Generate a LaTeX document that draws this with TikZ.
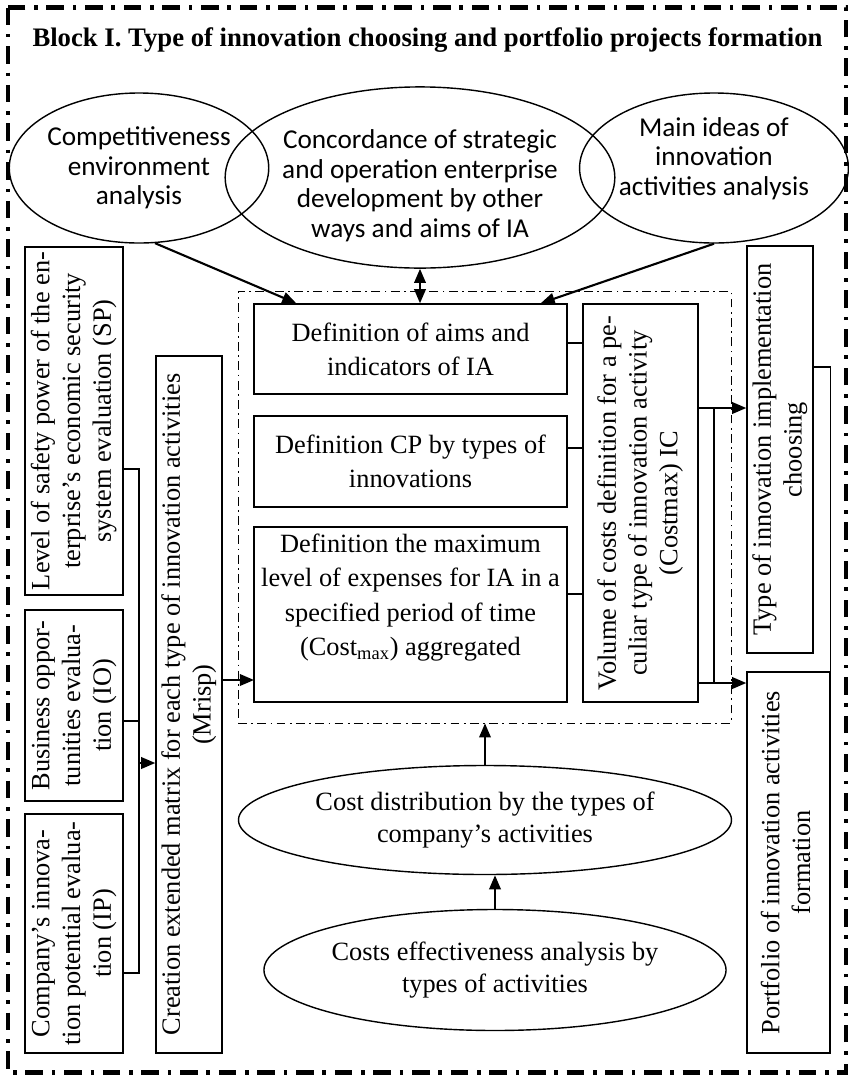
\documentclass[tikz,border=0pt]{standalone}
\usepackage{fontspec}
\usepackage{graphicx}
\setmainfont{Liberation Serif}
\newfontfamily\calibri{Carlito}
\usetikzlibrary{shapes.geometric,arrows.meta}
\newcommand{\vtext}[1]{\rotatebox{90}{\begin{tabular}{@{}c@{}}#1\end{tabular}}}
\begin{document}
\begin{tikzpicture}[thick,
  box/.style = {draw,rectangle,align=center,inner sep=1pt,font=\fontsize{15}{19.5}\selectfont},
  vbox/.style = {draw,rectangle,inner sep=1pt,font=\fontsize{15}{17.5}\selectfont},
  oval/.style = {draw,ellipse,align=center,inner sep=0pt,font=\calibri\fontsize{15.5}{16.8}\selectfont},
  soval/.style = {draw,ellipse,align=center,inner sep=0pt,font=\fontsize{15}{18.5}\selectfont},
  arr/.style = {line width=1.2pt,-{Triangle[length=8pt,width=6.5pt]}},
  dbl/.style = {line width=1.2pt,{Triangle[length=8pt,width=6.5pt]}-{Triangle[length=8pt,width=6.5pt]}}]
  \useasboundingbox (0,0) rectangle (16.98,-21.52);
  \draw[line width=2.3pt,dash pattern=on 10pt off 5pt on 2pt off 5pt] (0.16,-0.15) rectangle (16.92,-21.45);
  \node[font=\bfseries\fontsize{15.2}{18}\selectfont] (title) at (8.55,-0.80) {Block I. Type of innovation choosing and portfolio projects formation};
  \node[oval,minimum width=4.6cm,minimum height=3.0cm] (env) at (2.78,-3.36) {Competitiveness\\environment\\analysis};
  \node[oval,minimum width=6.6cm,minimum height=3.38cm] (conc) at (8.40,-3.55) {\rule{0pt}{20pt}Concordance of strategic\\and operation enterprise\\development by other\\ways and aims of IA};
  \node[oval,minimum width=4.6cm,minimum height=3.0cm] (ideas) at (14.28,-3.36) {Main ideas of\\innovation\\activities analysis\\[-3.5pt]\mbox{}};
  \node[draw,thin,minimum width=9.86cm,minimum height=8.64cm,dash pattern=on 5pt off 2.5pt on 1pt off 2.5pt] (stage) at (9.69,-10.14) {};
  \node[box,minimum width=6.26cm,minimum height=1.8cm] (aims) at (8.21,-6.98) {Definition of aims and\\indicators of IA};
  \node[box,minimum width=6.26cm,minimum height=1.82cm] (cp) at (8.21,-9.23) {Definition CP by types of\\innovations};
  \node[box,minimum width=6.26cm,minimum height=3.5cm] (maxc) at (8.21,-12.29) {Definition the maximum\\level of expenses for IA in a\\specified period of time\\(Cost\textsubscript{max}) aggregated\\[3pt]\mbox{}};
  \node[vbox,minimum width=2.30cm,minimum height=7.96cm] (vol) at (12.81,-10.06) {\vtext{Volume of costs definition for a pe-\\culiar type of innovation activity\\(Costmax) IC}};
  \node[vbox,minimum width=1.32cm,minimum height=8.14cm] (type) at (15.60,-8.99) {\vtext{Type of innovation implementation\\choosing}};
  \node[vbox,minimum width=1.66cm,minimum height=7.62cm] (port) at (15.77,-17.25) {\vtext{Portfolio of innovation activities\\formation}};
  \node[vbox,minimum width=1.96cm,minimum height=6.96cm] (sp) at (1.48,-8.42) {\vtext{Level of safety power of the en-\\terprise’s economic security\\system evaluation (SP)}};
  \node[vbox,minimum width=1.96cm,minimum height=3.82cm] (io) at (1.48,-14.11) {\vtext{Business oppor-\\tunities evalua-\\tion (IO)}};
  \node[vbox,minimum width=1.96cm,minimum height=4.78cm] (ip) at (1.48,-18.67) {\vtext{Company’s innova-\\tion potential evalua-\\tion (IP)}};
  \node[vbox,minimum width=1.32cm,minimum height=13.94cm] (mrisp) at (3.78,-14.09) {\vtext{Creation extended matrix for each type of innovation activities\\(Mrisp)}};
  \node[soval,minimum width=9.86cm,minimum height=2.18cm] (dist) at (9.70,-16.40) {Cost distribution by the types of\\company’s activities};
  \node[soval,minimum width=7.96cm,minimum height=2.42cm] (eff) at (9.90,-19.40) {Costs effectiveness analysis by\\types of activities};
  \coordinate (busT) at (2.78,-9.38);
  \coordinate (busM) at (2.78,-14.42);
  \coordinate (busA) at (2.78,-15.26);
  \coordinate (busB) at (2.78,-19.46);
  \coordinate (in3) at (5.08,-13.60);
  \coordinate (vt) at (14.28,-8.16);
  \coordinate (vp) at (14.28,-13.66);
  \draw (sp.east |- busT) -- (busT) -- (busB) -- (ip.east |- busB);
  \draw (io.east |- busM) -- (busM);
  \draw[arr] (busA) -- (mrisp.west |- busA);
  \draw[arr] (mrisp.east |- in3) -- (in3);
  \draw[arr] (env.282) -- ([xshift=0.86cm]aims.north west);
  \draw[arr] (ideas.south) -- ([xshift=-0.54cm]aims.north east);
  \draw[dbl] (conc.south) -- (conc.south |- aims.north);
  \foreach \b/\s in {aims/0.12,cp/0.27,maxc/0.41}
    \draw ([yshift=\s cm]\b.east) -- ([yshift=\s cm]\b.east -| vol.west);
  \draw (vol.east |- vt) -- (vt) -- (vp);
  \draw[arr] (vt) -- (type.west |- vt);
  \draw[arr] (vol.east |- vp) -- (port.west |- vp);
  \draw ([yshift=1.65cm]type.east) -| (port.north east);
  \draw[arr] (dist.north) -- (dist.north |- stage.south);
  \draw[arr] (eff.north) -- (eff.north |- dist.south);
\end{tikzpicture}
\end{document}
